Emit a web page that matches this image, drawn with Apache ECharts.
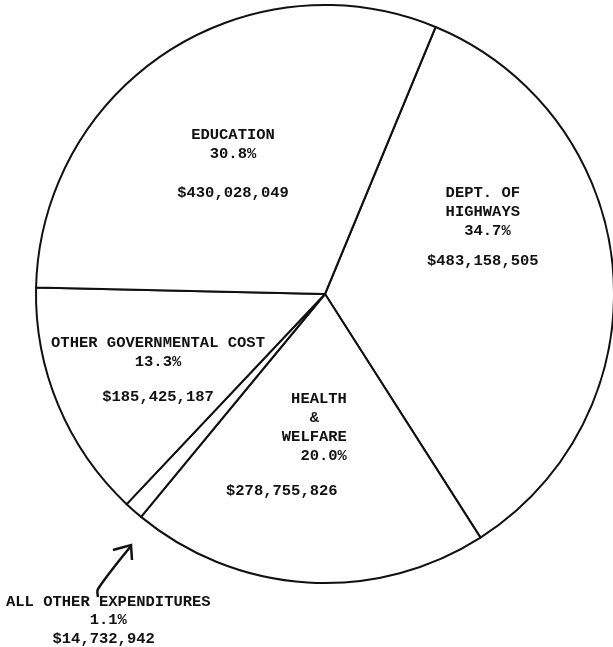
<!DOCTYPE html>
<html>
<head>
<meta charset="utf-8">
<script src="https://cdn.jsdelivr.net/npm/echarts@6/dist/echarts.min.js"></script>
<style>
  html, body { margin: 0; padding: 0; background: #fff; }
  #chart { width: 613px; height: 647px; }
</style>
</head>
<body>
<div id="chart"></div>
<script>
// Expenditure categories, clockwise from the upper right
const categories = ['DEPT. OF HIGHWAYS', 'HEALTH & WELFARE', 'ALL OTHER EXPENDITURES', 'OTHER GOVERNMENTAL COST', 'EDUCATION'];
const amounts = [483158505, 278755826, 14732942, 185425187, 430028049];
const percentLabels = ['34.7%', '20.0%', '1.1%', '13.3%', '30.8%'];

const FONT = '"Liberation Mono", "Courier New", monospace';

function money(v) {
  return '$' + v.toLocaleString('en-US');
}

// Text block layout for each slice: anchor, alignment, line indents and gap before the amount
const labelBlocks = [
  { x: 427, y: 183.5, align: 'left', gap: 11,
    lines: (p) => ['  DEPT. OF', '  HIGHWAYS', '    ' + p] },
  { x: 226, y: 389.5, align: 'left', gap: 16,
    lines: (p) => ['       HEALTH', '         &', '      WELFARE', '        ' + p] },
  { x: 6, y: 592.5, align: 'left', gap: 0, lineHeight: 18.5,
    lines: (p) => ['ALL OTHER EXPENDITURES', '         ' + p], amountIndent: '     ' },
  { x: 158, y: 333.5, align: 'center', gap: 16,
    lines: (p) => ['OTHER GOVERNMENTAL COST', p] },
  { x: 233, y: 125.5, align: 'center', gap: 20,
    lines: (p) => ['EDUCATION', p] }
];

const chart = echarts.init(document.getElementById('chart'), null, { renderer: 'canvas' });

const data = categories.map((name, i) => {
  const b = labelBlocks[i];
  const lh = b.lineHeight || 19;
  const parts = b.lines(percentLabels[i]).map(s => '{t|' + s + '}');
  if (b.gap > 0) parts.push('{g| }');
  parts.push('{t|' + (b.amountIndent || '') + money(amounts[i]) + '}');
  return {
    name: name,
    value: amounts[i],
    label: {
      formatter: parts.join('\n'),
      rich: {
        t: { fontFamily: FONT, fontSize: 15.5, fontWeight: 'bold', color: '#111', lineHeight: lh, align: b.align },
        g: { fontSize: 4, lineHeight: b.gap }
      }
    }
  };
});

chart.setOption({
  backgroundColor: '#ffffff',
  animation: false,
  series: [{
    type: 'pie',
    center: [325, 294],
    radius: 289,
    startAngle: 67.5,
    clockwise: true,
    avoidLabelOverlap: false,
    silent: true,
    itemStyle: { color: '#ffffff', borderColor: '#111', borderWidth: 2 },
    label: { show: true, position: 'inside' },
    labelLine: { show: false },
    labelLayout: function (params) {
      const b = labelBlocks[params.dataIndex];
      return { x: b.x, y: b.y, align: b.align, verticalAlign: 'top' };
    },
    data: data
  }],
  graphic: [
    // Hand-drawn pointer to the narrow slice
    {
      type: 'polyline',
      shape: { points: [[98, 597], [98, 589], [131, 546]], smooth: 0.3 },
      style: { stroke: '#111', lineWidth: 2.5, fill: null }
    },
    {
      type: 'polyline',
      shape: { points: [[113, 550], [131, 545], [132, 560]] },
      style: { stroke: '#111', lineWidth: 2.5, fill: null }
    }
  ]
});
</script>
</body>
</html>
